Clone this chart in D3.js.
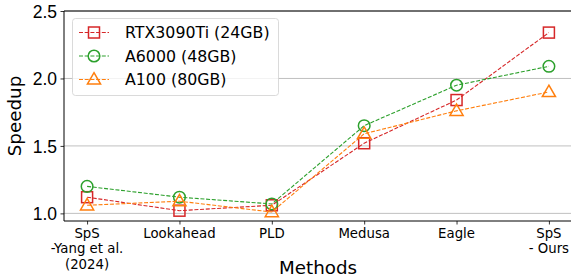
<!DOCTYPE html>
<html><head><meta charset="utf-8">
<script src="https://cdn.jsdelivr.net/npm/d3@7"></script>
<style>body{margin:0;background:#fff}svg{display:block;font-family:"DejaVu Sans",sans-serif}</style>
</head><body><svg id="c" width="571" height="280"></svg>
<script>
const categories = ["SpS\n-Yang et al.\n(2024)", "Lookahead", "PLD", "Medusa", "Eagle", "SpS\n- Ours"];
const rtx3090 = [1.12, 1.02, 1.06, 1.52, 1.84, 2.34];
const a6000 = [1.20, 1.12, 1.07, 1.65, 1.95, 2.09];
const a100 = [1.06, 1.09, 1.01, 1.59, 1.76, 1.90];
const seriesNames = ["RTX3090Ti (24GB)", "A6000 (48GB)", "A100 (80GB)"];
const yTicks = [1.0, 1.5, 2.0, 2.5];

const series = [
  {name: seriesNames[0], values: rtx3090, color: "#d62728", marker: "square"},
  {name: seriesNames[1], values: a6000, color: "#2ca02c", marker: "circle"},
  {name: seriesNames[2], values: a100, color: "#ff7f0e", marker: "triangle"}
];

const svg = d3.select("#c");
const L = 64, R = 572, T = 11, B = 221;
const x = d3.scaleLinear().domain([-0.25, categories.length - 0.75]).range([L, R]);
const y = d3.scaleLinear().domain([0.9435, 2.5]).range([B, T]);

// gridlines
svg.append("g").selectAll("line").data(yTicks).join("line")
  .attr("x1", L).attr("x2", R).attr("y1", d => y(d)).attr("y2", d => y(d))
  .attr("stroke", "#b0b0b0").attr("stroke-width", 0.8);

// y axis
const yAxis = svg.append("g").attr("transform", `translate(${L},0)`)
  .call(d3.axisLeft(y).tickValues(yTicks).tickFormat(d3.format(".1f")).tickSize(3.5).tickPadding(3.5));
yAxis.select(".domain").remove();
yAxis.selectAll("text").attr("font-size", 17.5).attr("fill", "#000").attr("dy", "0.36em");
yAxis.selectAll("line").attr("stroke", "#000").attr("stroke-width", 0.8);

// x axis
const xAxis = svg.append("g").attr("transform", `translate(0,${B})`)
  .call(d3.axisBottom(x).tickValues(d3.range(categories.length)).tickFormat("").tickSize(3.5));
xAxis.select(".domain").remove();
xAxis.selectAll("line").attr("stroke", "#000").attr("stroke-width", 0.8);
const xl = svg.append("g").selectAll("text").data(categories).join("text")
  .attr("x", (d, i) => x(i)).attr("y", B + 16.5)
  .attr("text-anchor", "middle").attr("font-size", 13.3).attr("fill", "#000");
xl.each(function(d) {
  const t = d3.select(this);
  d.split("\n").forEach((s, k) => t.append("tspan").attr("x", t.attr("x")).attr("dy", k === 0 ? 0 : 15.5).text(s));
});

// spines
svg.append("line").attr("x1", L).attr("x2", L).attr("y1", T).attr("y2", B).attr("stroke", "#000").attr("stroke-width", 1);
svg.append("line").attr("x1", L).attr("x2", R).attr("y1", B).attr("y2", B).attr("stroke", "#000").attr("stroke-width", 1);
svg.append("line").attr("x1", L).attr("x2", R).attr("y1", T).attr("y2", T).attr("stroke", "#000").attr("stroke-width", 1);
svg.append("line").attr("x1", R).attr("x2", R).attr("y1", T).attr("y2", B).attr("stroke", "#000").attr("stroke-width", 1);

// labels
svg.append("text").attr("x", (L + R) / 2).attr("y", 274).attr("text-anchor", "middle")
  .attr("font-size", 18.3).text("Methods");
svg.append("text").attr("transform", `translate(21,${(T + B) / 2}) rotate(-90)`).attr("text-anchor", "middle")
  .attr("font-size", 18.3).text("Speedup");

function drawMarker(g, type, cx, cy, color) {
  if (type === "square") {
    g.append("rect").attr("x", cx - 5.5).attr("y", cy - 5.5).attr("width", 11).attr("height", 11)
      .attr("fill", "none").attr("stroke", color).attr("stroke-width", 1.5);
  } else if (type === "circle") {
    g.append("circle").attr("cx", cx).attr("cy", cy).attr("r", 5.8)
      .attr("fill", "none").attr("stroke", color).attr("stroke-width", 1.5);
  } else {
    const s = d3.symbol().type(d3.symbolTriangle).size(75);
    g.append("path").attr("d", s()).attr("transform", `translate(${cx},${cy + 0.8})`)
      .attr("fill", "none").attr("stroke", color).attr("stroke-width", 1.5);
  }
}

const line = d3.line().x((d, i) => x(i)).y(d => y(d));
series.forEach(s => {
  const g = svg.append("g");
  g.append("path").attr("d", line(s.values)).attr("fill", "none").attr("stroke", s.color)
    .attr("stroke-width", 1.1).attr("stroke-dasharray", "4,1.7");
  s.values.forEach((v, i) => drawMarker(g, s.marker, x(i), y(v), s.color));
});

// legend
const lg = svg.append("g");
lg.append("rect").attr("x", 72.5).attr("y", 18.5).attr("width", 206).attr("height", 77).attr("rx", 3)
  .attr("fill", "#fff").attr("fill-opacity", 0.8).attr("stroke", "#d0d0d0").attr("stroke-width", 0.8);
series.forEach((s, k) => {
  const cy = 32.5 + k * 23.5;
  lg.append("line").attr("x1", 79).attr("x2", 109).attr("y1", cy).attr("y2", cy)
    .attr("stroke", s.color).attr("stroke-width", 1.1).attr("stroke-dasharray", "4,1.7");
  drawMarker(lg, s.marker, 94, cy, s.color);
  lg.append("text").attr("x", 125).attr("y", cy).attr("dy", "0.36em").attr("font-size", 15.8).text(s.name);
});
</script></body></html>
